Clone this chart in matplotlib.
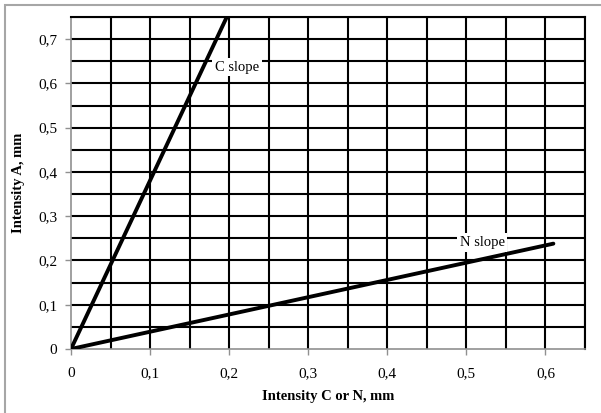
import matplotlib
matplotlib.use("Agg")
import matplotlib.pyplot as plt
from matplotlib.patches import Rectangle
import numpy as np

# Data
c_x = [0.0, 0.197]
c_y = [0.0, 0.75]
n_x = [0.0, 0.61]
n_y = [0.0, 0.238]
x_ticks = [0, 0.1, 0.2, 0.3, 0.4, 0.5, 0.6]
y_ticks = [0, 0.1, 0.2, 0.3, 0.4, 0.5, 0.6, 0.7]
x_tick_labels = ["0", "0,1", "0,2", "0,3", "0,4", "0,5", "0,6"]
y_tick_labels = ["0", "0,1", "0,2", "0,3", "0,4", "0,5", "0,6", "0,7"]
c_label = "C slope"
n_label = "N slope"
x_title = "Intensity C or N, mm"
y_title = "Intensity A, mm"

plt.rcParams['font.family'] = ['Liberation Serif', 'DejaVu Serif']

fig = plt.figure(figsize=(6.01, 4.13), dpi=100)
fig.patches.append(Rectangle((5/601, -0.1), 1.2, (1 - 4.5/413) + 0.1,
                             transform=fig.transFigure, fill=False,
                             edgecolor='#a6a6a6', linewidth=1.5))
ax = fig.add_axes([71/601, 1 - 349/413, (585 - 71)/601, (349 - 17)/413])
ax.set_xlim(0, 0.65)
ax.set_ylim(0, 0.75)

# grid every 0.05
for gx in np.arange(0.05, 0.651, 0.05):
    ax.axvline(gx, color='black', linewidth=1.5, zorder=1)
for gy in np.arange(0.05, 0.751, 0.05):
    ax.axhline(gy, color='black', linewidth=1.5, zorder=1)

ax.plot(c_x, c_y, color='black', linewidth=2.8, solid_capstyle='round', zorder=3)
ax.plot(n_x, n_y, color='black', linewidth=2.8, solid_capstyle='round', zorder=3)

bbox = dict(facecolor='white', edgecolor='none', pad=2)
ax.text(0.21, 0.637, c_label, ha='center', va='center', fontsize=10.5, bbox=bbox, zorder=4)
ax.text(0.52, 0.241, n_label, ha='center', va='center', fontsize=10.5, bbox=bbox, zorder=4)

ax.set_xticks(x_ticks)
ax.set_xticklabels(x_tick_labels)
ax.set_yticks(y_ticks)
ax.set_yticklabels(y_tick_labels)
ax.tick_params(axis='both', direction='out', length=4, color='#909090', labelsize=11, width=1)
ax.tick_params(axis='x', pad=9)
ax.tick_params(axis='y', pad=6)

for side in ['left', 'bottom']:
    ax.spines[side].set_color('#909090')
    ax.spines[side].set_linewidth(1.2)
for side in ['top', 'right']:
    ax.spines[side].set_color('black')
    ax.spines[side].set_linewidth(1.5)

ax.set_xlabel(x_title, fontweight='bold', fontsize=10.5, labelpad=7)
ax.set_ylabel(y_title, fontweight='bold', fontsize=10.5, labelpad=9)

fig.savefig("out.png", dpi=100)
